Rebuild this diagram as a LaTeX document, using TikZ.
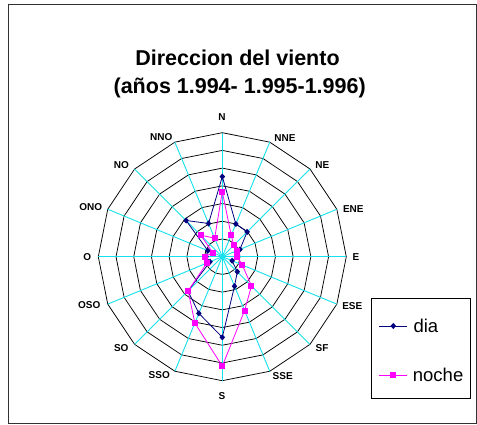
\documentclass[tikz,border=0pt]{standalone}
\usepackage{fontspec}
\setmainfont{Liberation Sans}
\definecolor{spoke}{RGB}{20,225,235}
\definecolor{dianavy}{RGB}{0,0,128}
\definecolor{nochemag}{RGB}{255,0,255}
\definecolor{framegray}{RGB}{50,50,50}
\begin{document}
\begin{tikzpicture}[x=1pt,y=1pt,
  ring/.style={draw=black,line width=0.75pt},
  spokeline/.style={draw=spoke,line width=0.9pt},
  dirlabel/.style={font=\bfseries\fontsize{10}{12}\selectfont,inner sep=0pt,anchor=center},
  titletext/.style={font=\bfseries\fontsize{21.5}{26}\selectfont,inner sep=0pt,anchor=base},
  legtext/.style={font=\fontsize{18.5}{22}\selectfont,inner sep=0pt,anchor=base west},
  dialine/.style={draw=dianavy,line width=0.8pt},
  nocheline/.style={draw=nochemag,line width=0.8pt}]
\useasboundingbox (0,0) rectangle (477,425);
% outer frame
\draw[framegray,line width=1pt] (8.5,1) rectangle (476.5,420);
% title
\node[titletext] (t1) at (237.5,359.3) {Direccion del viento};
\node[titletext] (t2) at (239.7,331) {(años 1.994- 1.995-1.996)};
\begin{scope}[shift={(222.3,168.3)}]
  % rings
  \foreach \k in {1,...,7}
    \draw[ring] (90:\k*17.714) \foreach \j in {1,...,15} { -- ({90-22.5*\j}:\k*17.714) } -- cycle;
  % spokes
  \foreach \j in {0,...,15}
    \draw[spokeline] (0,0) -- ({90-22.5*\j}:124);
  % data points
  \foreach \r [count=\j from 0] in {4.52,2.0,1.98,1.08,0.85,0.6,1.2,1.8,4.55,3.46,2.74,0.75,0.92,0.88,2.89,2.03}
    \coordinate (d\j) at ({90-22.5*\j}:\r*17.714);
  \foreach \r [count=\j from 0] in {3.67,1.31,0.92,0.9,0.85,1.22,2.33,3.29,6.18,4.05,2.73,0.94,1.0,0.58,1.72,1.13}
    \coordinate (n\j) at ({90-22.5*\j}:\r*17.714);
\end{scope}
% dia series
\draw[dialine] (d0) -- (d1) -- (d2) -- (d3) -- (d4) -- (d5) -- (d6) -- (d7) -- (d8) -- (d9) -- (d10) -- (d11) -- (d12) -- (d13) -- (d14) -- (d15) -- cycle;
\foreach \j in {0,...,15}
  \fill[dianavy] (d\j) ++(0,3.1) -- ++(2.8,-3.1) -- ++(-2.8,-3.1) -- ++(-2.8,3.1) -- cycle;
% noche series
\draw[nocheline] (n0) -- (n1) -- (n2) -- (n3) -- (n4) -- (n5) -- (n6) -- (n7) -- (n8) -- (n9) -- (n10) -- (n11) -- (n12) -- (n13) -- (n14) -- (n15) -- cycle;
\foreach \j in {0,...,15}
  \fill[nochemag] (n\j) ++(-3,-3) rectangle ++(6,6);
% direction labels
\node[dirlabel] (lN) at (222,308.3) {N};
\node[dirlabel] (lNNE) at (285,287.3) {NNE};
\node[dirlabel] (lNE) at (322.3,260) {NE};
\node[dirlabel] (lENE) at (353.3,215.7) {ENE};
\node[dirlabel] (lE) at (356,168.3) {E};
\node[dirlabel] (lESE) at (352.3,119) {ESE};
\node[dirlabel] (lSF) at (322,77) {SF};
\node[dirlabel] (lSSE) at (282.7,49.3) {SSE};
\node[dirlabel] (lS) at (222,29) {S};
\node[dirlabel] (lSSO) at (159.3,50) {SSO};
\node[dirlabel] (lSO) at (121.3,77) {SO};
\node[dirlabel] (lOSO) at (89.3,120) {OSO};
\node[dirlabel] (lO) at (87.3,168.3) {O};
\node[dirlabel] (lONO) at (90.7,217.7) {ONO};
\node[dirlabel] (lNO) at (121.3,260) {NO};
\node[dirlabel] (lNNO) at (161.3,287.7) {NNO};
% legend
\draw[black,line width=1pt] (371,26) rectangle (470,126.7);
\coordinate (la1) at (379.3,99);
\coordinate (lb1) at (407.3,99);
\coordinate (lm1) at (393.3,99);
\coordinate (la2) at (379.3,50);
\coordinate (lb2) at (407.3,50);
\coordinate (lm2) at (393.3,50);
\draw[dialine] (la1) -- (lb1);
\fill[dianavy] (lm1) ++(0,3.1) -- ++(2.8,-3.1) -- ++(-2.8,-3.1) -- ++(-2.8,3.1) -- cycle;
\draw[nocheline] (la2) -- (lb2);
\fill[nochemag] (lm2) ++(-3,-3) rectangle ++(6,6);
\node[legtext] (ldia) at (413.3,92.7) {dia};
\node[legtext] (lnoche) at (412.7,43.3) {noche};
\end{tikzpicture}
\end{document}
